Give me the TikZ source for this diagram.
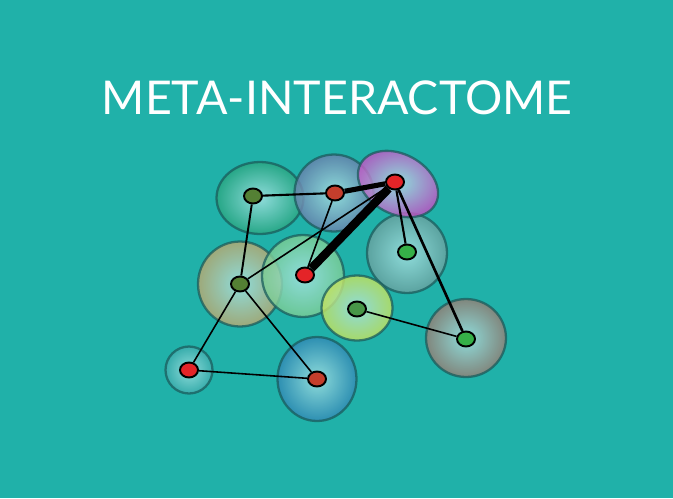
\documentclass[tikz,border=0pt]{standalone}
\usepackage{fontspec}
\setsansfont{Lato}
\usepackage{tikz}
\usetikzlibrary{shapes.geometric}

\definecolor{sea}{RGB}{32,177,169}
\definecolor{rim}{RGB}{26,92,92}
\definecolor{core}{RGB}{168,230,230}
\definecolor{pred}{RGB}{228,36,40}
\definecolor{pbrick}{RGB}{196,62,44}
\definecolor{pdkgreen}{RGB}{84,128,52}
\definecolor{pgreen}{RGB}{54,176,72}
\definecolor{pmidgreen}{RGB}{72,150,72}
\definecolor{cjade}{RGB}{40,165,128}
\definecolor{cslate}{RGB}{104,128,172}
\definecolor{corchid}{RGB}{196,80,196}
\definecolor{cgrey}{RGB}{104,160,158}
\definecolor{ctan}{RGB}{186,168,112}
\definecolor{cmint}{RGB}{122,204,146}
\definecolor{clime}{RGB}{196,226,92}
\definecolor{cmud}{RGB}{150,126,116}
\definecolor{cteal}{RGB}{60,172,172}
\definecolor{cblue}{RGB}{48,136,180}

\pgfdeclarelayer{bg}
\pgfdeclarelayer{background}
\pgfsetlayers{bg,background,main}

\tikzset{
  blob/.style={ellipse, draw=rim, draw opacity=0.75, line width=1.3pt,
    inner color=core, outer color=#1, fill opacity=0.82, inner sep=0pt},
  prot/.style={ellipse, draw=black, line width=1.1pt, fill=#1,
    minimum width=0.36cm, minimum height=0.3cm, inner sep=0pt},
  link/.style={draw=black, line width=0.9pt}
}

\begin{document}
\begin{tikzpicture}[x=0.02cm, y=-0.02cm, every node/.style={font=\sffamily}]
\useasboundingbox (0,0) rectangle (673,498);
\begin{pgfonlayer}{bg}
\fill[sea] (0,0) rectangle (673,498);
\end{pgfonlayer}

\node (title) [anchor=base, text=white, font=\sffamily\fontsize{26.5}{30}\selectfont] at (337,114) {META-INTERACTOME};

% proteins
\node (p1) [prot=pdkgreen] at (253,196) {};
\node (p2) [prot=pbrick] at (335,193) {};
\node (p3) [prot=pred] at (395,182) {};
\node (p4) [prot=pgreen] at (407,252) {};
\node (p5) [prot=pred] at (305,275) {};
\node (p6) [prot=pdkgreen] at (240,284) {};
\node (p7) [prot=pmidgreen] at (357,309) {};
\node (p8) [prot=pgreen] at (466,339) {};
\node (p9) [prot=pred] at (189,370) {};
\node (p10) [prot=pbrick] at (317,379) {};

\begin{pgfonlayer}{background}
% complexes
\node (b1) [blob=cjade, minimum width=1.74cm, minimum height=1.44cm] at (260,198) {};
\node (b2) [blob=cslate, minimum width=1.58cm, minimum height=1.54cm] at (334,193) {};
\node (b4) [blob=cgrey, minimum width=1.6cm, minimum height=1.6cm] at (407,253) {};
\node (b3) [blob=corchid, minimum width=1.7cm, minimum height=1.2cm, rotate=-28] at (398,184) {};
\node (b5) [blob=ctan, minimum width=1.68cm, minimum height=1.7cm] at (240,284) {};
\node (b6) [blob=cmint, minimum width=1.64cm, minimum height=1.64cm] at (303,276) {};
\node (b7) [blob=clime, minimum width=1.42cm, minimum height=1.3cm] at (357,308) {};
\node (b8) [blob=cmud, minimum width=1.6cm, minimum height=1.56cm] at (466,338) {};
\node (b9) [blob=cteal, minimum width=0.94cm, minimum height=0.94cm] at (189,370) {};
\node (b10) [blob=cblue, minimum width=1.58cm, minimum height=1.68cm] at (317,379) {};

% interactions
\draw[link, line width=1.2pt] (p1) -- (p2);
\draw[link, line width=2.9pt] (p2) -- (p3);
\draw[link, line width=4.8pt] (p3) -- (p5);
\draw[link] (p2) -- (p5);
\draw[link] (p3) -- (p6);
\draw[link, line width=1.1pt] (p1) -- (p6);
\draw[link, line width=1.2pt] (p3) -- (p4);
\draw[link, line width=1.5pt] (p3) -- (p8);
\draw[link] (p6) -- (p9);
\draw[link] (p6) -- (p10);
\draw[link] (p9) -- (p10);
\draw[link] (p7) -- (p8);
\end{pgfonlayer}
\end{tikzpicture}
\end{document}
